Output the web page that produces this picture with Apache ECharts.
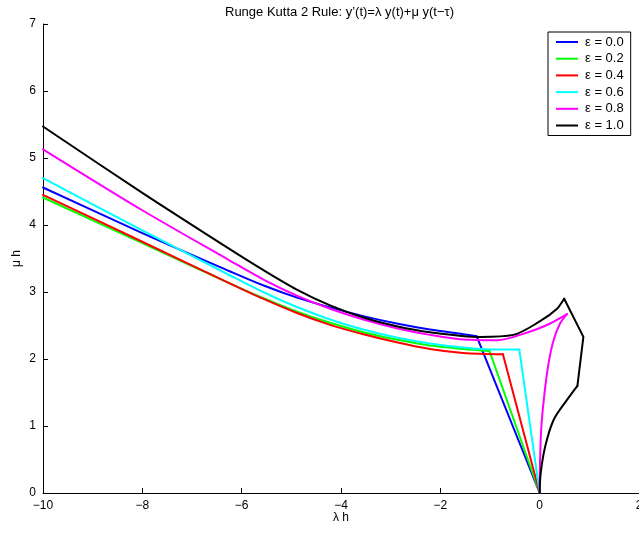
<!DOCTYPE html>
<html><head><meta charset="utf-8">
<script src="https://cdn.jsdelivr.net/npm/echarts@6/dist/echarts.min.js"></script>
<style>html,body{margin:0;padding:0;background:#fff;overflow:hidden}#c{width:639px;height:534px}</style>
</head><body><div id="c"></div>
<script>
const titleText = "Runge Kutta 2 Rule: y\u2019(t)=\u03bb y(t)+\u03bc y(t\u2212\u03c4)";
const seriesNames = ["\u03b5 = 0.0", "\u03b5 = 0.2", "\u03b5 = 0.4", "\u03b5 = 0.6", "\u03b5 = 0.8", "\u03b5 = 1.0"];
const seriesColors = ["#0000ff", "#00ff00", "#ff0000", "#00ffff", "#ff00ff", "#000000"];

const eps00X = [-10, -8, -6.24, -5.57, -4.9, -4.22, -3.55, -2.88, -2.21, -1.54, -1.27, 0];
const eps00Y = [4.56, 3.88, 3.31, 3.10, 2.92, 2.77, 2.64, 2.53, 2.44, 2.37, 2.34, 0];

const eps02X = [-10, -8, -6.24, -5.57, -4.9, -4.22, -3.55, -2.88, -2.21, -1.54, -1.01, 0];
const eps02Y = [4.41, 3.73, 3.13, 2.91, 2.71, 2.54, 2.40, 2.29, 2.20, 2.15, 2.12, 0];

const eps04X = [-10, -8, -6.24, -5.57, -4.9, -4.22, -3.55, -2.88, -2.21, -1.54, -0.74, 0];
const eps04Y = [4.45, 3.75, 3.13, 2.90, 2.69, 2.51, 2.37, 2.25, 2.15, 2.09, 2.07, 0];

const eps06X = [-10, -8, -6.24, -5.57, -4.9, -4.22, -3.55, -2.88, -2.21, -1.54, -0.86, -0.41, 0];
const eps06Y = [4.70, 3.92, 3.25, 3.00, 2.78, 2.59, 2.44, 2.32, 2.23, 2.17, 2.14, 2.14, 0];

const eps08X = [-10, -8, -6.24, -5.57, -4.9, -4.22, -3.55, -2.88, -2.21, -1.54, -0.86, -0.19, 0.21, 0.55, 0.41, 0.28, 0.18, 0.09, 0.03, 0.005, 0];
const eps08Y = [5.13, 4.22, 3.47, 3.19, 2.95, 2.75, 2.59, 2.46, 2.36, 2.29, 2.28, 2.41, 2.53, 2.67, 2.53, 2.28, 1.94, 1.44, 0.94, 0.39, 0];

const eps10X = [-10, -8, -6.24, -5.57, -4.9, -4.22, -3.55, -2.88, -2.21, -1.2, -0.53, 0, 0.35, 0.494, 0.88, 0.76, 0.55, 0.28, 0.11, 0.02, 0];
const eps10Y = [5.47, 4.48, 3.64, 3.33, 3.04, 2.80, 2.62, 2.49, 2.40, 2.33, 2.36, 2.56, 2.75, 2.90, 2.33, 1.60, 1.39, 1.09, 0.69, 0.29, 0];

const xTicks = [-10, -8, -6, -4, -2, 0, 2];
const yTicks = [0, 1, 2, 3, 4, 5, 6, 7];

const allX = [eps00X, eps02X, eps04X, eps06X, eps08X, eps10X];
const allY = [eps00Y, eps02Y, eps04Y, eps06Y, eps08Y, eps10Y];

// drawing pieces: [startIndex, endIndex, smoothness] — corners stay sharp
const pieces = [
  [[0, 10, 0.3], [10, 11, 0]],
  [[0, 10, 0.3], [10, 11, 0]],
  [[0, 10, 0.3], [10, 11, 0]],
  [[0, 11, 0.3], [11, 12, 0]],
  [[0, 13, 0.3], [13, 20, 0.3]],
  [[0, 13, 0.3], [13, 15, 0], [15, 20, 0.35]]
];

function fmt(v) { return v < 0 ? "\u2212" + Math.abs(v) : String(v); }

const series = [];
seriesNames.forEach((n, i) => {
  pieces[i].forEach(p => {
    const pts = [];
    for (let j = p[0]; j <= p[1]; j++) pts.push([allX[i][j], allY[i][j]]);
    series.push({
      name: n, type: 'line', showSymbol: false, symbol: 'none', smooth: p[2] || false,
      color: seriesColors[i],
      lineStyle: {color: seriesColors[i], width: 2, cap: 'round', join: 'round'},
      data: pts
    });
  });
});

const chart = echarts.init(document.getElementById('c'), null, {renderer: 'canvas', width: 639, height: 534});
const font = "Liberation Sans, Arial, sans-serif";
chart.setOption({
  animation: false,
  backgroundColor: '#fff',
  title: {
    text: titleText, left: 220, top: 1,
    textStyle: {fontSize: 13, fontWeight: 'normal', color: '#000', fontFamily: font}
  },
  legend: {
    orient: 'vertical', left: 548, top: 32,
    backgroundColor: '#fff', borderColor: '#000', borderWidth: 1,
    padding: [3, 7, 3, 8], itemGap: 2.7,
    icon: 'rect', itemWidth: 22, itemHeight: 2,
    textStyle: {fontSize: 13, color: '#000', fontFamily: font, lineHeight: 14, padding: [0, 0, 0, 2]},
    data: seriesNames
  },
  grid: {left: 43, width: 596, top: 24, height: 469, containLabel: false, outerBoundsMode: 'none'},
  xAxis: {
    type: 'value', min: xTicks[0], max: xTicks[xTicks.length - 1], interval: 2,
    name: '\u03bb h', nameLocation: 'middle', nameGap: 19, nameMoveOverlap: false,
    nameTextStyle: {fontSize: 12, color: '#000', fontFamily: font},
    axisLine: {show: true, onZero: false, lineStyle: {color: '#000', width: 1}},
    axisTick: {show: true, inside: true, length: 5, lineStyle: {color: '#000'}},
    axisLabel: {color: '#000', fontSize: 12, fontFamily: font, margin: 7, formatter: fmt},
    splitLine: {show: false}
  },
  yAxis: {
    type: 'value', min: yTicks[0], max: yTicks[yTicks.length - 1], interval: 1,
    name: '\u03bc h', nameLocation: 'middle', nameGap: 20, nameRotate: 90, nameMoveOverlap: false,
    nameTextStyle: {fontSize: 12, color: '#000', fontFamily: font},
    axisLine: {show: true, onZero: false, lineStyle: {color: '#000', width: 1}},
    axisTick: {show: true, inside: true, length: 5, lineStyle: {color: '#000'}},
    axisLabel: {color: '#000', fontSize: 12, fontFamily: font, margin: 7, formatter: fmt},
    splitLine: {show: false}
  },
  series: series
});
</script></body></html>
